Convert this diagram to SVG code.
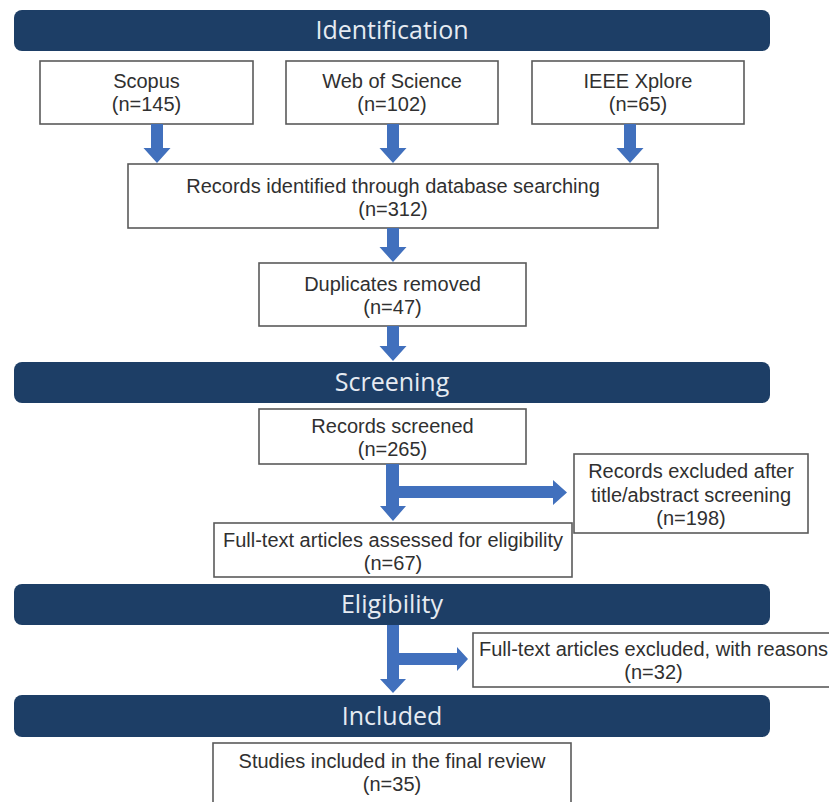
<svg xmlns="http://www.w3.org/2000/svg" width="829" height="802" viewBox="0 0 829 802">
<defs>
<style>
.banner rect{fill:#1d3e66;}
.banner text{fill:#e6ebf2;font-family:"Open Sans","Noto Sans","DejaVu Sans",sans-serif;font-size:25px;text-anchor:middle;}
.box rect{fill:#ffffff;stroke:#5a5a5a;stroke-width:1.6;}
.box text{fill:#303030;font-family:"Liberation Sans",Arial,sans-serif;font-size:20px;text-anchor:middle;}
.arrow{fill:#4170bd;stroke:none;}
</style>
</defs>
<rect x="0" y="0" width="829" height="802" fill="#ffffff"/>

<g id="banner-identification" class="banner">
<rect x="14" y="10" width="756" height="41" rx="8"/>
<text x="392" y="39">Identification</text>
</g>
<g id="banner-screening" class="banner">
<rect x="14" y="362" width="756" height="41" rx="8"/>
<text x="392" y="391">Screening</text>
</g>
<g id="banner-eligibility" class="banner">
<rect x="14" y="584" width="756" height="41" rx="8"/>
<text x="392" y="613">Eligibility</text>
</g>
<g id="banner-included" class="banner">
<rect x="14" y="695" width="756" height="42" rx="8"/>
<text x="392" y="725">Included</text>
</g>

<g id="scopus" class="box">
<rect x="40" y="61" width="213" height="63"/>
<text x="146.5" y="88">Scopus</text>
<text x="146.5" y="111">(n=145)</text>
</g>
<g id="wos" class="box">
<rect x="286" y="61" width="212" height="63"/>
<text x="392" y="88">Web of Science</text>
<text x="392" y="111">(n=102)</text>
</g>
<g id="ieee" class="box">
<rect x="532" y="61" width="212" height="63"/>
<text x="638" y="88">IEEE Xplore</text>
<text x="638" y="111">(n=65)</text>
</g>
<g id="identified" class="box">
<rect x="128" y="164" width="530" height="64"/>
<text x="393" y="193">Records identified through database searching</text>
<text x="393" y="216">(n=312)</text>
</g>
<g id="duplicates" class="box">
<rect x="259" y="263" width="267" height="63"/>
<text x="392.5" y="291">Duplicates removed</text>
<text x="392.5" y="314">(n=47)</text>
</g>
<g id="screened" class="box">
<rect x="259" y="409" width="267" height="55"/>
<text x="392.5" y="433">Records screened</text>
<text x="392.5" y="456">(n=265)</text>
</g>
<g id="excluded-screening" class="box">
<rect x="574" y="454" width="234" height="79"/>
<text x="691" y="478">Records excluded after</text>
<text x="691" y="502">title/abstract screening</text>
<text x="691" y="525">(n=198)</text>
</g>
<g id="fulltext-assessed" class="box">
<rect x="214" y="523" width="358" height="54"/>
<text x="393" y="547">Full-text articles assessed for eligibility</text>
<text x="393" y="570">(n=67)</text>
</g>
<g id="fulltext-excluded" class="box">
<rect x="473" y="633" width="362" height="54"/>
<text x="653.5" y="656">Full-text articles excluded, with reasons</text>
<text x="653.5" y="679">(n=32)</text>
</g>
<g id="included-studies" class="box">
<rect x="213" y="743" width="358" height="70"/>
<text x="392" y="768">Studies included in the final review</text>
<text x="392" y="791">(n=35)</text>
</g>

<g id="connectors">
<polygon class="arrow" points="151,124 163,124 163,148 170.5,148 157,163 143.5,148 151,148"/>
<polygon class="arrow" points="387,124 399,124 399,148 406.5,148 393,163 379.5,148 387,148"/>
<polygon class="arrow" points="624,124 636,124 636,148 643.5,148 630,163 616.5,148 624,148"/>
<polygon class="arrow" points="387,228 399,228 399,247 406.5,247 393,262 379.5,247 387,247"/>
<polygon class="arrow" points="387,326 399,326 399,346 406.5,346 393,361 379.5,346 387,346"/>
<path class="arrow" d="M386,464 H399 V486 H553 V480 L567,492.5 L553,505 V498 H399 V506 H406 L393,521 L380,506 H386 Z"/>
<path class="arrow" d="M387,625 H399 V653 H457 V647 L468,659 L457,671 V665 H399 V679 H406 L393,693 L380,679 H387 Z"/>
</g>
</svg>
